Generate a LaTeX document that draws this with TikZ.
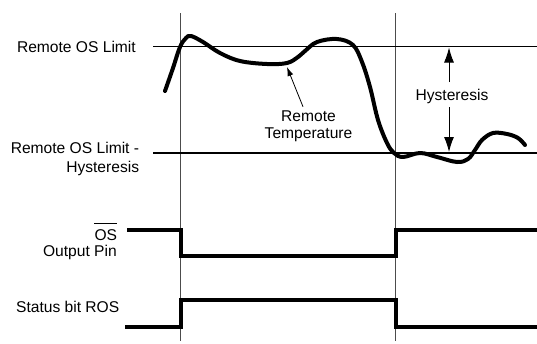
\documentclass[tikz,border=0pt]{standalone}
\usepackage{fontspec}
\setmainfont{Liberation Sans}
\usetikzlibrary{arrows.meta}
\begin{document}
\begin{tikzpicture}[x=1pt,y=-1pt,
  lbl/.style={font=\fontsize{15.6}{18}\selectfont, inner sep=0pt},
  guide/.style={line width=1pt, draw=black!70},
  limit/.style={line width=1.3pt},
  trace/.style={line width=4pt, line join=miter},
  curve/.style={line width=4pt, line cap=round, line join=round},
  bigarrow/.style={line width=1pt, -{Latex[length=15pt,width=10pt]}},
  smallarrow/.style={line width=0.8pt, -{Latex[length=9pt,width=6pt]}}]
\useasboundingbox (0,0) rectangle (537,343);
% guide lines
\coordinate (g1t) at (180.5,13);
\coordinate (g1b) at (180.5,341);
\coordinate (g2t) at (395.5,13);
\coordinate (g2b) at (395.5,341);
\draw[guide] (g1t) -- (g1b);
\draw[guide] (g2t) -- (g2b);
% limit lines
\coordinate (upL) at (153,46.5);
\coordinate (upR) at (540,46.5);
\coordinate (loL) at (153,153);
\coordinate (loR) at (540,153);
\draw[limit] (upL) -- (upR);
\draw[limit] (loL) -- (loR);
% labels
\node[lbl, anchor=base east] (lim) at (136,52) {Remote OS Limit};
\node[lbl, anchor=base east] (limh1) at (139.3,153) {Remote OS Limit -};
\node[lbl, anchor=base east] (limh2) at (139.3,172) {Hysteresis};
\node[lbl, anchor=base east] (os) at (117.3,240) {OS};
\draw[line width=1pt] ([yshift=5.5pt]os.north west) -- ([yshift=5.5pt]os.north east);
\node[lbl, anchor=base east] (outpin) at (117,256.5) {Output Pin};
\node[lbl, anchor=base east] (ros) at (119.5,312.3) {Status bit ROS};
% temperature curve
\draw[curve] plot[smooth, tension=0.6] coordinates {
  (165,91) (173,68) (180,47) (186,38) (191,36) (203,42) (220,53) (240,61)
  (267,64) (287,63) (298,57) (305,51) (317,42) (337,39) (353,45) (362,62)
  (370,87) (378,120) (387,143) (394,153) (403,157) (420,153) (437,157)
  (457,162) (468,159) (475,150) (482,140) (493,133) (507,134) (518,138) (525,145)};
% remote temperature label
\node[lbl, anchor=base] (rt1) at (308.5,121.7) {Remote};
\node[lbl, anchor=base] (rt2) at (308.5,138) {Temperature};
\coordinate (rttip) at (287,67);
\draw[smallarrow] (rt1.north -| 303,0) ++(0,-4) -- (rttip);
% hysteresis
\node[lbl, anchor=base] (hys) at (452,100.7) {Hysteresis};
\coordinate (hup) at (449,47.5);
\coordinate (hlo) at (449,152);
\draw[bigarrow] (449,82) -- (hup);
\draw[bigarrow] (449,107) -- (hlo);
% OS output pin trace
\coordinate (o1) at (127,230);
\coordinate (o2) at (180.5,230);
\coordinate (o3) at (180.5,256);
\coordinate (o4) at (395.5,256);
\coordinate (o5) at (395.5,229.5);
\coordinate (o6) at (540,229.5);
\draw[trace] (o1) -- (o2) -- (o3) -- (o4) -- (o5) -- (o6);
% status bit trace
\coordinate (s1) at (125,327);
\coordinate (s2) at (180.5,327);
\coordinate (s3) at (180.5,299.5);
\coordinate (s4) at (395.5,299.5);
\coordinate (s5) at (395.5,326.5);
\coordinate (s6) at (540,326.5);
\draw[trace] (s1) -- (s2) -- (s3) -- (s4) -- (s5) -- (s6);
\end{tikzpicture}
\end{document}
